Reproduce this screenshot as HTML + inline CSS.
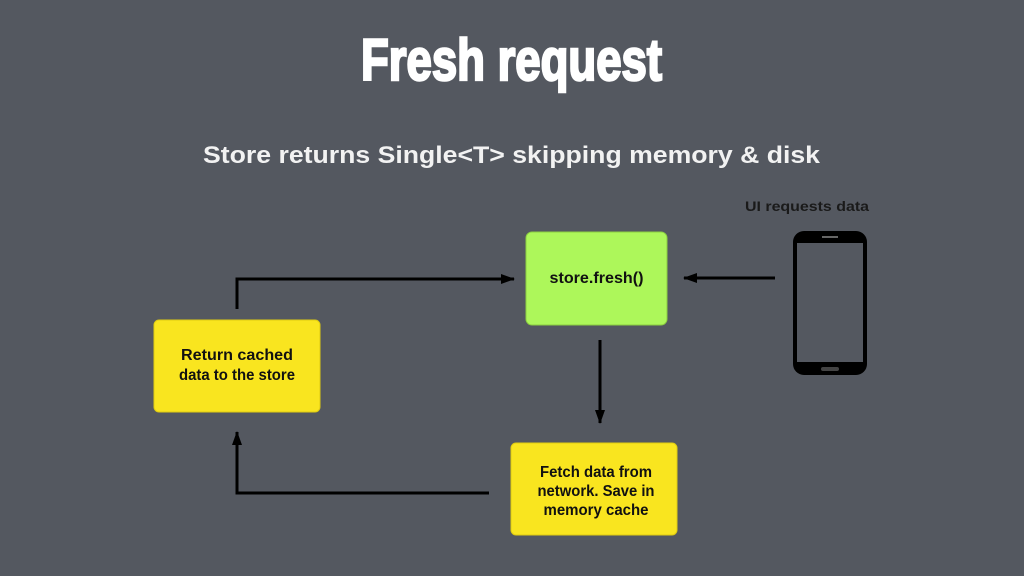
<!DOCTYPE html>
<html><head><meta charset="utf-8"><style>
html,body{margin:0;padding:0;background:#545860;}
svg{display:block;}
</style></head><body>
<svg width="1024" height="576" viewBox="0 0 1024 576" xmlns="http://www.w3.org/2000/svg">
<rect width="1024" height="576" fill="#545860"/>
<defs>
<marker id="ah" markerWidth="14" markerHeight="10" refX="13" refY="5" orient="auto" markerUnits="userSpaceOnUse">
<path d="M0,0 L14,5 L0,10 Z" fill="#000"/>
</marker>
</defs>
<text x="361" y="80" textLength="301" lengthAdjust="spacingAndGlyphs" font-family="Liberation Sans Narrow, Liberation Sans, sans-serif" font-weight="bold" font-size="58" fill="#fff" stroke="#fff" stroke-width="2.5">Fresh request</text>
<text x="203" y="163" textLength="617" lengthAdjust="spacingAndGlyphs" font-family="Liberation Sans, sans-serif" font-weight="bold" font-size="24" fill="#f2f2f2">Store returns Single&lt;T&gt; skipping memory &amp; disk</text>
<text x="745" y="211" font-family="Liberation Sans, sans-serif" font-weight="bold" font-size="14" fill="#1a1a1a" textLength="124" lengthAdjust="spacingAndGlyphs">UI requests data</text>

<rect x="526" y="232" width="141" height="93" rx="6" fill="#adf75a" stroke="#8ccf40" stroke-width="1"/>
<text x="596.5" y="283" text-anchor="middle" font-family="Liberation Sans, sans-serif" font-weight="bold" font-size="16" fill="#111" textLength="94" lengthAdjust="spacingAndGlyphs">store.fresh()</text>

<rect x="154" y="320" width="166" height="92" rx="5" fill="#f9e51f" stroke="#e0cc10"/>
<text x="237" y="360" text-anchor="middle" font-family="Liberation Sans, sans-serif" font-weight="bold" font-size="15.5" fill="#111" textLength="112" lengthAdjust="spacingAndGlyphs">Return cached</text>
<text x="237" y="380" text-anchor="middle" font-family="Liberation Sans, sans-serif" font-weight="bold" font-size="15.5" fill="#111" textLength="116" lengthAdjust="spacingAndGlyphs">data to the store</text>

<rect x="511" y="443" width="166" height="92" rx="5" fill="#f9e51f" stroke="#e0cc10"/>
<text x="596" y="477" text-anchor="middle" font-family="Liberation Sans, sans-serif" font-weight="bold" font-size="15.5" fill="#111" textLength="112" lengthAdjust="spacingAndGlyphs">Fetch data from</text>
<text x="596" y="496" text-anchor="middle" font-family="Liberation Sans, sans-serif" font-weight="bold" font-size="15.5" fill="#111" textLength="117" lengthAdjust="spacingAndGlyphs">network. Save in</text>
<text x="596" y="515" text-anchor="middle" font-family="Liberation Sans, sans-serif" font-weight="bold" font-size="15.5" fill="#111" textLength="105" lengthAdjust="spacingAndGlyphs">memory cache</text>

<g stroke="#000" stroke-width="3" fill="none">
<polyline points="237,309 237,279 514,279" marker-end="url(#ah)"/>
<line x1="775" y1="278" x2="684" y2="278" marker-end="url(#ah)"/>
<line x1="600" y1="340" x2="600" y2="423" marker-end="url(#ah)"/>
<polyline points="489,493 237,493 237,432" marker-end="url(#ah)"/>
</g>

<rect x="793" y="231" width="74" height="144" rx="11" fill="#000"/>
<rect x="797" y="243" width="66" height="119" fill="#545860"/>
<rect x="822" y="236" width="16" height="2" fill="#666"/>
<rect x="821" y="367" width="18" height="4" rx="2" fill="#444"/>
</svg>
</body></html>
